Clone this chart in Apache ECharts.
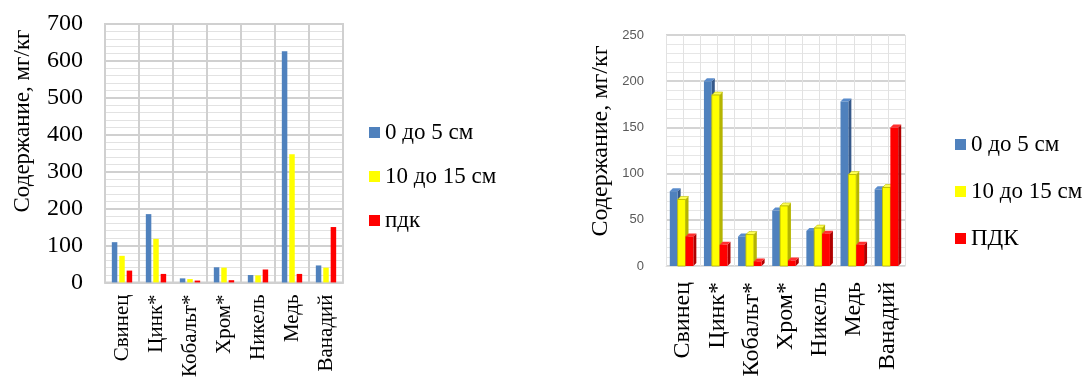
<!DOCTYPE html>
<html>
<head>
<meta charset="utf-8">
<script src="https://cdn.jsdelivr.net/npm/echarts@6/dist/echarts.min.js"></script>
<style>
  html, body { margin: 0; padding: 0; background: #fff; }
  #wrap { position: relative; width: 1090px; height: 380px; }
  #left { position: absolute; left: 0; top: 0; width: 545px; height: 380px; }
  #right { position: absolute; left: 545px; top: 0; width: 545px; height: 380px; }
</style>
</head>
<body>
<div id="wrap"><div id="left"></div><div id="right"></div></div>
<script>
// Heavy-metal content in soil, mg/kg
var categories = ['Свинец', 'Цинк*', 'Кобальт*', 'Хром*', 'Никель', 'Медь', 'Ванадий'];
var seriesNames = ['0 до 5 см', '10 до 15 см'];

// first site
var siteA_top = [109, 185, 11, 41, 20, 626, 46];
var siteA_deep = [72, 118, 9, 40, 19, 347, 40];
var siteA_mpc = [32, 23, 5, 6, 35, 23, 150];

// second site
var siteB_top = [81, 200, 32, 60, 38, 178, 83];
var siteB_deep = [72, 185, 34, 65, 41, 99, 85];
var siteB_mpc = [32, 23, 5, 6, 35, 23, 150];

var yTicksA = { min: 0, max: 700, interval: 100 };
var yTicksB = { min: 0, max: 250, interval: 50 };

var SERIF = '"Liberation Serif", "Times New Roman", serif';
var BLUE = '#4F81BD', YELLOW = '#FFFF00', RED = '#FF0000';

// ---------- left chart: flat clustered bars ----------
var chartA = echarts.init(document.getElementById('left'), null, { renderer: 'canvas' });
chartA.setOption({
  animation: false,
  textStyle: { fontFamily: SERIF },
  grid: { left: 105, right: 202, top: 24, bottom: 94, show: true, borderColor: '#d0d0d0', borderWidth: 2 },
  legend: {
    orient: 'vertical', left: 369, top: 121, padding: 0,
    itemWidth: 11, itemHeight: 11, itemGap: 21, itemTextGap: 7,
    icon: 'rect',
    textStyle: { fontFamily: SERIF, fontSize: 23, color: '#000', lineHeight: 22 },
    data: ['0 до 5 см', '10 до 15 см', 'пдк']
  },
  graphic: [{
    type: 'text', x: 23, y: 121, rotation: Math.PI / 2,
    style: { text: 'Содержание, мг/кг', font: '23px ' + SERIF, fill: '#000', align: 'center', verticalAlign: 'middle' }
  }],
  xAxis: {
    type: 'category', data: categories,
    axisLine: { show: true, lineStyle: { color: '#d0d0d0', width: 2 } },
    axisTick: { show: false },
    splitLine: { show: true, lineStyle: { color: '#d0d0d0', width: 2 } },
    axisLabel: { rotate: 90, fontSize: 21, color: '#000', margin: 12, fontFamily: SERIF, interval: 0 }
  },
  yAxis: {
    type: 'value', min: yTicksA.min, max: yTicksA.max, interval: yTicksA.interval,
    axisLine: { show: false }, axisTick: { show: false },
    axisLabel: { fontSize: 24, color: '#000', margin: 22, fontFamily: SERIF },
    splitLine: { lineStyle: { color: '#d0d0d0', width: 2 } },
    minorTick: { show: true, splitNumber: 5, length: 0, lineStyle: { width: 0 } },
    minorSplitLine: { show: true, lineStyle: { color: '#e2e2e2', width: 1 } }
  },
  series: [
    { name: seriesNames[0], type: 'bar', data: siteA_top, barWidth: 5.5, barGap: '35%', itemStyle: { color: BLUE } },
    { name: seriesNames[1], type: 'bar', data: siteA_deep, barWidth: 5.5, barGap: '35%', itemStyle: { color: YELLOW } },
    { name: 'пдк', type: 'bar', data: siteA_mpc, barWidth: 5.5, barGap: '35%', itemStyle: { color: RED } }
  ]
});

// ---------- right chart: bars with a drawn depth face ----------
var faces = [
  { front: BLUE, side: '#36598a', top: '#5a8ccc', stroke: null },
  { front: YELLOW, side: '#b5b500', top: '#ffff55', stroke: '#b8b800' },
  { front: RED, side: '#b00000', top: '#ff3030', stroke: null }
];

function prismBar(k) {
  return function (params, api) {
    var idx = api.value(0), val = api.value(1);
    var t = api.coord([idx, val]);
    var b = api.coord([idx, 0]);
    var band = api.size([1, 0])[0];
    var w = band * 0.23, dx = 3, dy = 3;
    var x0 = t[0] - (3 * w + dx) / 2 + k * w;
    var f = faces[k];
    var children = [
      { type: 'polygon', shape: { points: [[x0 + w, t[1]], [x0 + w + dx, t[1] - dy], [x0 + w + dx, b[1] - dy], [x0 + w, b[1]]] },
        style: { fill: f.side } },
      { type: 'polygon', shape: { points: [[x0, t[1]], [x0 + dx, t[1] - dy], [x0 + w + dx, t[1] - dy], [x0 + w, t[1]]] },
        style: { fill: f.top, stroke: f.stroke, lineWidth: f.stroke ? 0.6 : 0 } },
      { type: 'rect', shape: { x: x0, y: t[1], width: w, height: b[1] - t[1] },
        style: { fill: f.front, stroke: f.stroke, lineWidth: f.stroke ? 0.8 : 0 } }
    ];
    return { type: 'group', children: children };
  };
}

function pairs(arr) { return arr.map(function (v, i) { return [i, v]; }); }

var halfCats = [];
for (var i = 0; i < categories.length * 2; i++) halfCats.push('');

var chartB = echarts.init(document.getElementById('right'), null, { renderer: 'canvas' });
chartB.setOption({
  animation: false,
  textStyle: { fontFamily: SERIF },
  grid: { left: 121, right: 185, top: 35, bottom: 114 },
  legend: {
    orient: 'vertical', left: 410, top: 133, padding: 0,
    itemWidth: 11, itemHeight: 11, itemGap: 24, itemTextGap: 6,
    icon: 'rect',
    textStyle: { fontFamily: SERIF, fontSize: 23, color: '#000', lineHeight: 22 },
    data: [
      { name: seriesNames[0], itemStyle: { color: BLUE } },
      { name: seriesNames[1], itemStyle: { color: YELLOW } },
      { name: 'ПДК', itemStyle: { color: RED } }
    ]
  },
  graphic: [{
    type: 'text', x: 56, y: 141, rotation: Math.PI / 2,
    style: { text: 'Содержание, мг/кг', font: '24px ' + SERIF, fill: '#000', align: 'center', verticalAlign: 'middle' }
  }],
  xAxis: [{
    type: 'category', data: categories,
    axisLine: { show: true, lineStyle: { color: '#e0e0e0', width: 1 } },
    axisTick: { show: false },
    splitLine: { show: false },
    axisLabel: { rotate: 90, fontSize: 24, color: '#000', margin: 16, fontFamily: SERIF, interval: 0 }
  }, {
    type: 'category', data: halfCats, position: 'bottom',
    axisLine: { show: false }, axisTick: { show: false }, axisLabel: { show: false },
    splitLine: { show: true, interval: 0, lineStyle: { color: '#e2e2e2', width: 1 } }
  }],
  yAxis: {
    type: 'value', min: yTicksB.min, max: yTicksB.max, interval: yTicksB.interval,
    axisLine: { show: false }, axisTick: { show: false },
    axisLabel: { fontSize: 13, color: '#595959', margin: 22, fontFamily: '"Liberation Sans", Arial, sans-serif' },
    splitLine: { lineStyle: { color: '#d4d4d4', width: 2 } },
    minorTick: { show: true, splitNumber: 5, length: 0, lineStyle: { width: 0 } },
    minorSplitLine: { show: true, lineStyle: { color: '#e6e6e6', width: 1 } }
  },
  series: [
    { name: seriesNames[0], type: 'custom', renderItem: prismBar(0), data: pairs(siteB_top), encode: { x: 0, y: 1 }, itemStyle: { color: BLUE } },
    { name: seriesNames[1], type: 'custom', renderItem: prismBar(1), data: pairs(siteB_deep), encode: { x: 0, y: 1 }, itemStyle: { color: YELLOW } },
    { name: 'ПДК', type: 'custom', renderItem: prismBar(2), data: pairs(siteB_mpc), encode: { x: 0, y: 1 }, itemStyle: { color: RED } }
  ]
});
</script>
</body>
</html>
